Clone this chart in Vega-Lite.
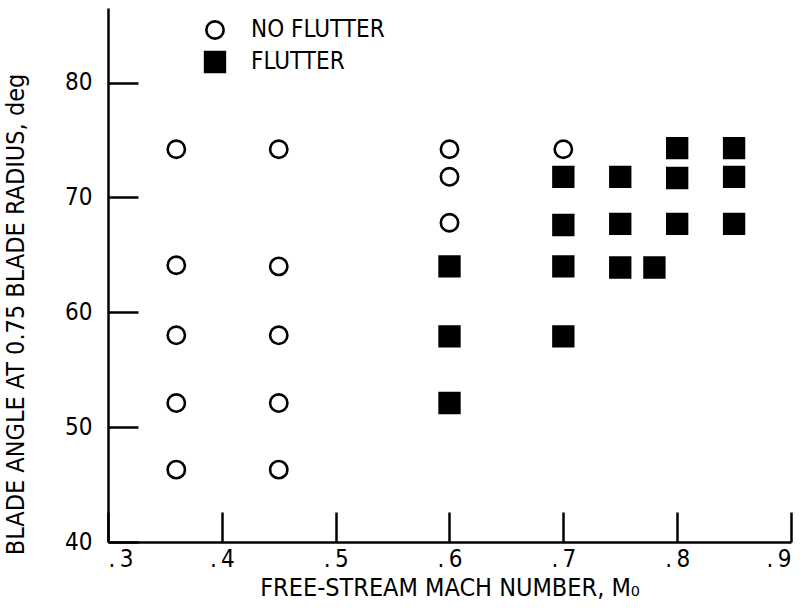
{
  "$schema": "https://vega.github.io/schema/vega-lite/v6.json",
  "autosize": "none",
  "width": 683,
  "height": 534,
  "padding": {"left": 108, "top": 8, "right": 15, "bottom": 72},
  "background": "white",
  "config": {
    "view": {"stroke": null},
    "font": "DejaVu Sans Condensed, sans-serif",
    "axis": {
      "grid": false,
      "domainColor": "black",
      "domainWidth": 2.5,
      "tickColor": "black",
      "tickWidth": 2.5,
      "labelColor": "black",
      "titleColor": "black",
      "labelFont": "DejaVu Sans Condensed, sans-serif",
      "titleFont": "DejaVu Sans Condensed, sans-serif",
      "titleFontWeight": "normal",
      "labelFontSize": 24,
      "titleFontSize": 25
    }
  },
  "data": {
    "values": [
      {"mach": 0.36, "angle": 74.2, "result": "NO FLUTTER"},
      {"mach": 0.36, "angle": 64.1, "result": "NO FLUTTER"},
      {"mach": 0.36, "angle": 58.0, "result": "NO FLUTTER"},
      {"mach": 0.36, "angle": 52.1, "result": "NO FLUTTER"},
      {"mach": 0.36, "angle": 46.3, "result": "NO FLUTTER"},
      {"mach": 0.45, "angle": 74.2, "result": "NO FLUTTER"},
      {"mach": 0.45, "angle": 64.0, "result": "NO FLUTTER"},
      {"mach": 0.45, "angle": 58.0, "result": "NO FLUTTER"},
      {"mach": 0.45, "angle": 52.1, "result": "NO FLUTTER"},
      {"mach": 0.45, "angle": 46.3, "result": "NO FLUTTER"},
      {"mach": 0.6, "angle": 74.2, "result": "NO FLUTTER"},
      {"mach": 0.6, "angle": 71.8, "result": "NO FLUTTER"},
      {"mach": 0.6, "angle": 67.8, "result": "NO FLUTTER"},
      {"mach": 0.7, "angle": 74.2, "result": "NO FLUTTER"},
      {"mach": 0.6, "angle": 64.0, "result": "FLUTTER"},
      {"mach": 0.6, "angle": 57.9, "result": "FLUTTER"},
      {"mach": 0.6, "angle": 52.1, "result": "FLUTTER"},
      {"mach": 0.7, "angle": 71.8, "result": "FLUTTER"},
      {"mach": 0.7, "angle": 67.6, "result": "FLUTTER"},
      {"mach": 0.7, "angle": 64.0, "result": "FLUTTER"},
      {"mach": 0.7, "angle": 57.9, "result": "FLUTTER"},
      {"mach": 0.75, "angle": 71.8, "result": "FLUTTER"},
      {"mach": 0.75, "angle": 67.7, "result": "FLUTTER"},
      {"mach": 0.75, "angle": 63.9, "result": "FLUTTER"},
      {"mach": 0.78, "angle": 63.9, "result": "FLUTTER"},
      {"mach": 0.8, "angle": 74.3, "result": "FLUTTER"},
      {"mach": 0.8, "angle": 71.7, "result": "FLUTTER"},
      {"mach": 0.8, "angle": 67.7, "result": "FLUTTER"},
      {"mach": 0.85, "angle": 74.3, "result": "FLUTTER"},
      {"mach": 0.85, "angle": 71.8, "result": "FLUTTER"},
      {"mach": 0.85, "angle": 67.7, "result": "FLUTTER"}
    ]
  },
  "mark": {"type": "point", "strokeWidth": 2.6, "opacity": 1},
  "encoding": {
    "x": {
      "field": "mach", "type": "quantitative",
      "scale": {"domain": [0.3, 0.9], "nice": false, "zero": false},
      "axis": {
        "values": [0.3, 0.4, 0.5, 0.6, 0.7, 0.8, 0.9],
        "labelExpr": "replace(format(datum.value, '.1f'), '0.', '.\u2009')",
        "tickSize": -30,
        "labelPadding": 35,
        "title": "FREE-STREAM MACH NUMBER,  M₀",
        "titlePadding": 4
      }
    },
    "y": {
      "field": "angle", "type": "quantitative",
      "scale": {"domain": [40, 86.5], "nice": false, "zero": false},
      "axis": {
        "values": [40, 50, 60, 70, 80],
        "tickSize": -30,
        "labelPadding": 46,
        "title": "BLADE ANGLE AT 0.75 BLADE RADIUS, deg",
        "titleX": -80,
        "titleY": 306
      }
    },
    "shape": {
      "field": "result", "type": "nominal",
      "scale": {"domain": ["NO FLUTTER", "FLUTTER"], "range": ["circle", "square"]},
      "legend": {
        "title": null,
        "orient": "none",
        "legendX": 95,
        "legendY": 10,
        "labelFontSize": 24,
        "labelColor": "black",
        "labelFont": "DejaVu Sans Condensed, sans-serif",
        "symbolStrokeWidth": 2.6,
        "symbolStrokeColor": "black",
        "labelOffset": 24,
        "rowPadding": 2
      }
    },
    "fill": {
      "field": "result", "type": "nominal",
      "scale": {"domain": ["NO FLUTTER", "FLUTTER"], "range": ["transparent", "black"]}
    },
    "size": {
      "field": "result", "type": "nominal",
      "scale": {"domain": ["NO FLUTTER", "FLUTTER"], "range": [300, 390]}
    },
    "stroke": {"value": "black"}
  }
}
